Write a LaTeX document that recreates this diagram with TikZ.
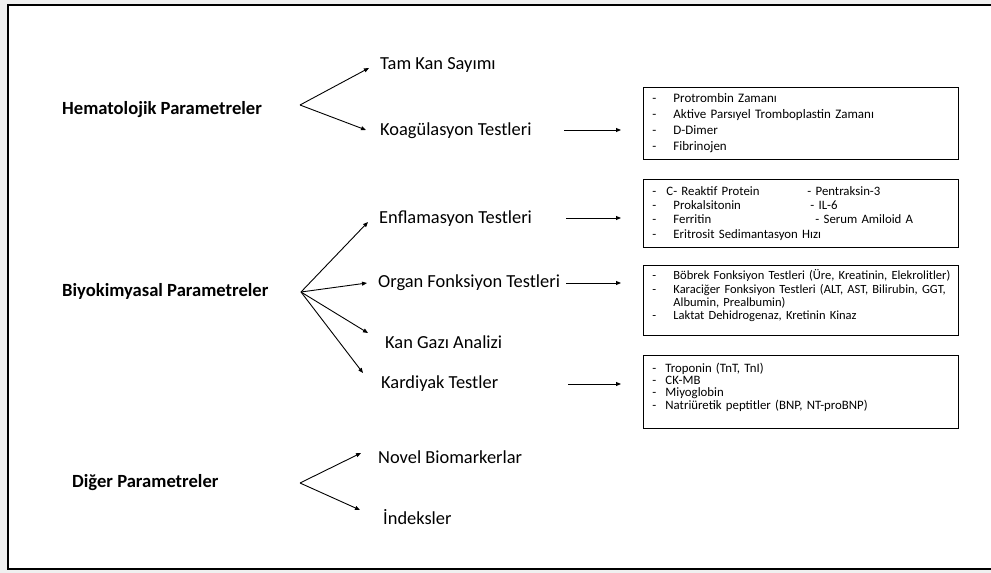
\documentclass[tikz,border=0pt]{standalone}
\usepackage{fontspec}
\setmainfont{Carlito}
\usetikzlibrary{arrows.meta}

% liste satiri: tire + metin
\newcommand{\madde}[2][21pt]{\makebox[#1][l]{-}\mbox{#2}}

\begin{document}
\begin{tikzpicture}[x=1pt, y=-1pt,
    ok/.style={-{Triangle[length=5pt,width=4pt]}, line width=0.9pt},
    ana/.style={anchor=west, inner sep=3pt, font=\fontsize{18.6}{22}\selectfont\bfseries},
    alt/.style={anchor=west, inner sep=3pt, font=\fontsize{18.4}{22}\selectfont},
    kutu/.style={draw, line width=0.9pt, anchor=north west, align=left,
        text width=297pt, inner xsep=9pt, inner ysep=0pt, minimum width=315pt}]
    \useasboundingbox (0,0) rectangle (991,573);
    \clip (0,0) rectangle (991,573);

    % Zemin ve cerceve
    \fill[gray!12] (0,0) rectangle (991,573);
    \draw[line width=2.2pt, fill=white] (8,5) rectangle (1002,569);

    % Ana basliklar
    \node[ana] (hem) at (59,110) {Hematolojik Parametreler};
    \node[ana] (bio) at (59,291) {Biyokimyasal Parametreler};
    \node[ana] (dig) at (69,483) {Diğer Parametreler};

    % Dallanma noktalari
    \coordinate (hemF) at (300,105);
    \coordinate (bioF) at (301,292);
    \coordinate (digF) at (300,483);

    % Alt basliklar
    \node[alt] (tam) at (377,65) {Tam Kan Sayımı};
    \node[alt] (koag) at (377,131) {Koagülasyon Testleri};
    \node[alt] (enf) at (376,219) {Enflamasyon Testleri};
    \node[alt] (organ) at (375,283) {Organ Fonksiyon Testleri};
    \node[alt] (kan) at (382,342) {Kan Gazı Analizi};
    \node[alt] (kard) at (378,384) {Kardiyak Testler};
    \node[alt] (novel) at (375,457) {Novel Biomarkerlar};
    \node[alt] (ind) at (380,517) {İndeksler};

    % Test kutulari
    \node[kutu, minimum height=72pt, font=\fontsize{13}{16}\selectfont] (kbox1) at (643,87) {%
        \madde{Protrombin Zamanı}\\
        \madde{Aktive Parsıyel Tromboplastin Zamanı}\\
        \madde{D-Dimer}\\
        \madde{Fibrinojen}};
    \node[kutu, minimum height=68pt, font=\fontsize{12.8}{14.2}\selectfont] (kbox2) at (643,179) {%
        \madde[14pt]{\makebox[141pt][l]{C- Reaktif Protein}- Pentraksin-3}\\
        \madde{\makebox[137pt][l]{Prokalsitonin}- IL-6}\\
        \madde{\makebox[142pt][l]{Ferritin}- Serum Amiloid A}\\
        \madde{Eritrosit Sedimantasyon Hızı}};
    \node[kutu, minimum height=70pt, font=\fontsize{12.5}{13.4}\selectfont] (kbox3) at (643,265) {%
        \madde{Böbrek Fonksiyon Testleri (Üre, Kreatinin, Elekrolitler)}\\
        \madde{Karaciğer Fonksiyon Testleri (ALT, AST, Bilirubin, GGT,}\\
        \hspace*{21pt}Albumin, Prealbumin)\\
        \madde{Laktat Dehidrogenaz, Kretinin Kinaz}\\[-2pt]\mbox{}};
    \node[kutu, minimum height=73pt, font=\fontsize{12.8}{12.3}\selectfont] (kbox4) at (643,355) {%
        \madde[13pt]{Troponin (TnT, TnI)}\\
        \madde[13pt]{CK-MB}\\
        \madde[13pt]{Miyoglobin}\\
        \madde[13pt]{Natriüretik peptitler (BNP, NT-proBNP)}\\[-0.5pt]\mbox{}};

    % Dallanan oklar
    \draw[ok] (hemF) -- ([shift={(-8,3)}]tam.west);
    \draw[ok] (hemF) -- ([shift={(-11,-1)}]koag.west);
    \draw[ok] (bioF) -- ([shift={(-8,3)}]enf.west);
    \draw[ok] (bioF) -- ([shift={(-8,0)}]organ.west);
    \draw[ok] (bioF) -- ([shift={(-14,-9)}]kan.west);
    \draw[ok] (bioF) -- ([shift={(-15,-11)}]kard.west);
    \draw[ok] (digF) -- ([shift={(-14,-4)}]novel.west);
    \draw[ok] (digF) -- ([shift={(-20,-7)}]ind.west);

    % Kutulara giden oklar
    \coordinate (koagO) at (564,130);
    \coordinate (enfO) at (566,218);
    \coordinate (organO) at (566,283);
    \coordinate (kardO) at (568,384);
    \draw[ok, shorten >=22pt] (koagO) -- (koagO -| kbox1.west);
    \draw[ok, shorten >=22pt] (enfO) -- (enfO -| kbox2.west);
    \draw[ok, shorten >=22pt] (organO) -- (organO -| kbox3.west);
    \draw[ok, shorten >=22pt] (kardO) -- (kardO -| kbox4.west);
\end{tikzpicture}
\end{document}
